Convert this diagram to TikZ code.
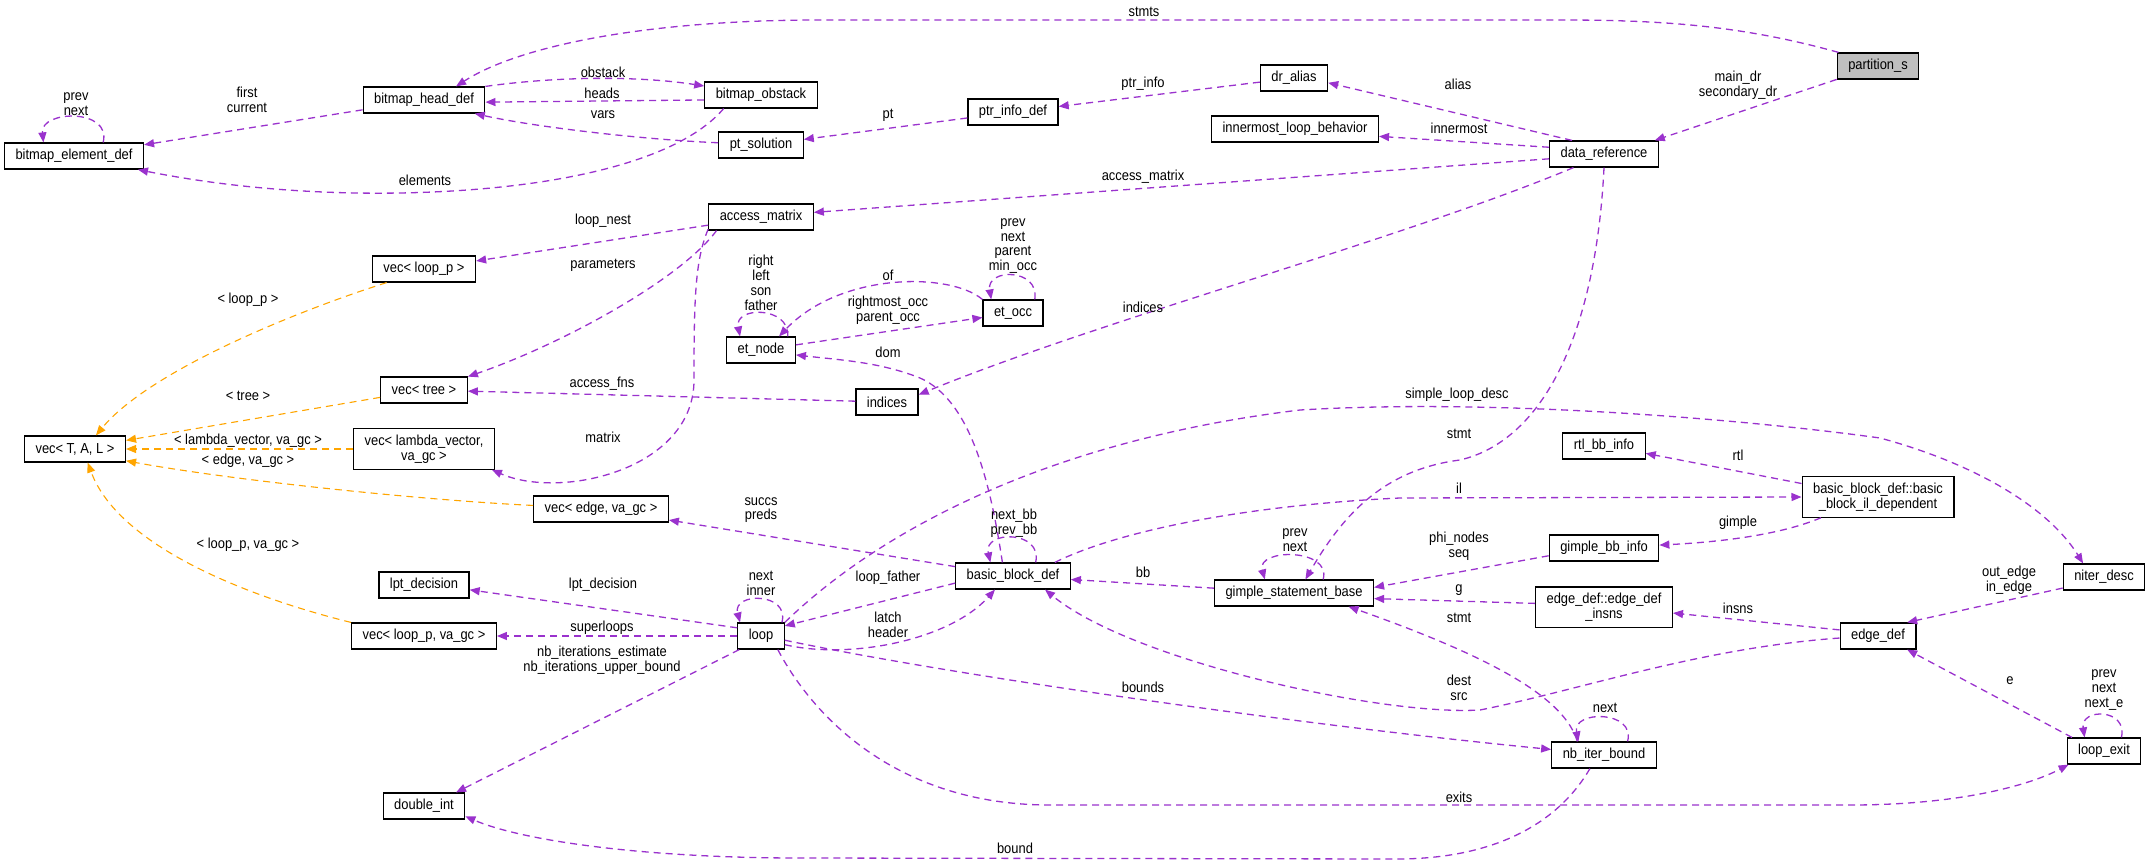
\documentclass[tikz,border=0pt]{standalone}
\usepackage{fontspec}
\newfontfamily\dxfont{Liberation Sans}[FakeStretch=0.89]
\usetikzlibrary{arrows.meta}
\definecolor{dxpurple}{HTML}{9A32CD}
\definecolor{dxorange}{HTML}{FFA500}
\definecolor{dxgray}{HTML}{BFBFBF}

\begin{document}
\begin{tikzpicture}[x=1pt, y=-1pt, >={Triangle[length=10pt, width=8pt]},
	cls/.style={rectangle, draw, line width=1.2pt, fill=white, inner xsep=11pt, inner ysep=6pt, minimum height=26pt, align=center, font=\dxfont\fontsize{14.5}{14.8}\selectfont},
	root/.style={cls, fill=dxgray},
	member/.style={->, draw=dxpurple, line width=1.3pt, dash pattern=on 7pt off 5pt},
	templ/.style={member, draw=dxorange, line width=1.1pt},
	lbl/.style={inner sep=0pt, align=center, font=\dxfont\fontsize{14.5}{14.8}\selectfont}]
		\useasboundingbox (0,0) rectangle (2149,867);

		\node (partition) [root] at (1878,66) {partition\_s};
		\node (dataref) [cls] at (1604,154) {data\_reference};
		\node (dralias) [cls] at (1294,78) {dr\_alias};
		\node (innermost) [cls] at (1295,129) {innermost\_loop\_behavior};
		\node (ptrinfo) [cls] at (1013,112) {ptr\_info\_def};
		\node (obstack) [cls] at (761,95) {bitmap\_obstack};
		\node (ptsol) [cls] at (761,145) {pt\_solution};
		\node (headdef) [cls] at (424,100) {bitmap\_head\_def};
		\node (elemdef) [cls] at (74,156) {bitmap\_element\_def};
		\node (accmat) [cls] at (761,217) {access\_matrix};
		\node (veclp) [cls] at (424,269) {vec< loop\_p >};
		\node (etnode) [cls] at (761,350) {et\_node};
		\node (etocc) [cls] at (1013,313) {et\_occ};
		\node (vectree) [cls] at (424,390) {vec< tree >};
		\node (indices) [cls] at (887,402) {indices};
		\node (vectal) [cls] at (75,449) {vec< T, A, L >};
		\node (veclam) [cls] at (424,449) {vec< lambda\_vector,\\va\_gc >};
		\node (vecedge) [cls] at (601,509) {vec< edge, va\_gc >};
		\node (lpt) [cls] at (424,585) {lpt\_decision};
		\node (veclpgc) [cls] at (424,636) {vec< loop\_p, va\_gc >};
		\node (loop) [cls] at (761,636) {loop};
		\node (dint) [cls] at (424,806) {double\_int};
		\node (bbdef) [cls] at (1013,576) {basic\_block\_def};
		\node (gimple) [cls] at (1294,593) {gimple\_statement\_base};
		\node (rtl) [cls] at (1604,446) {rtl\_bb\_info};
		\node (bbil) [cls] at (1878,497) {basic\_block\_def::basic\\\_block\_il\_dependent};
		\node (gimplebb) [cls] at (1604,548) {gimple\_bb\_info};
		\node (niter) [cls] at (2104,577) {niter\_desc};
		\node (einsns) [cls] at (1604,607) {edge\_def::edge\_def\\\_insns};
		\node (edgedef) [cls] at (1878,636) {edge\_def};
		\node (nbiter) [cls] at (1604,755) {nb\_iter\_bound};
		\node (loopexit) [cls] at (2104,751) {loop\_exit};

		\draw[member] (partition.161) .. controls (1740,25) and (1660,20) .. (1560,20) -- (820,20) .. controls (650,20) and (520,45) .. (headdef.23) node[lbl] at (1144,12) {stmts};
		\draw[member] (partition.198) -- (dataref.15) node[lbl] at (1738,85) {main\_dr\\secondary\_dr};
		\draw[member] (dataref.157) -- (dralias.352) node[lbl] at (1458,84) {alias};
		\draw[member] (dataref.173) -- (innermost.355) node[lbl] at (1459,128) {innermost};
		\draw[member] (dataref.185) -- (accmat.5) node[lbl] at (1143,177) {access\_matrix};
		\draw[member] (dataref.204) .. controls (1400,240) and (1100,320) .. (indices.13) node[lbl] at (1143,307) {indices};
		\draw[member] (dataref.south) .. controls (1596,330) and (1545,440) .. (1460,460) .. controls (1380,470) and (1340,520) .. (gimple.50) node[lbl] at (1459,434) {stmt};

		\draw[member] (headdef) -- (elemdef) node[lbl] at (247,100) {first\\current};
		\draw[member] (elemdef.25) .. controls (112,108) and (40,110) .. (elemdef.156) node[lbl] at (76,104) {prev\\next};
		\draw[member] (headdef.north east) .. controls (560,76) and (640,76) .. (obstack.171) node[lbl] at (603,72) {obstack};
		\draw[member] (obstack.185) -- (headdef.358) node[lbl] at (602,93) {heads};
		\draw[member] (ptsol.177) .. controls (650,140) and (540,128) .. (headdef.345) node[lbl] at (603,115) {vars};
		\draw[member] (obstack.200) .. controls (680,160) and (560,190) .. (400,193) .. controls (280,195) and (190,180) .. (elemdef.348) node[lbl] at (425,180) {elements};
		\draw[member] (ptrinfo) -- (ptsol) node[lbl] at (888,115) {pt};
		\draw[member] (dralias) -- (ptrinfo) node[lbl] at (1143,84) {ptr\_info};

		\draw[member] (accmat) -- (veclp) node[lbl] at (603,221) {loop\_nest};
		\draw[member] (accmat.197) .. controls (680,280) and (560,345) .. (vectree.17) node[lbl] at (603,265) {parameters};
		\draw[member] (accmat.193) .. controls (695,260) and (694,300) .. (694,380) .. controls (694,470) and (560,500) .. (veclam.343) node[lbl] at (603,437) {matrix};

		\draw[templ] (veclp.200) .. controls (300,310) and (150,370) .. (vectal.33) node[lbl] at (248,300) {< loop\_p >};
		\draw[templ] (vectree) -- (vectal) node[lbl] at (248,396) {< tree >};
		\draw[templ] (veclam) -- (vectal) node[lbl] at (248,441) {< lambda\_vector, va\_gc >};
		\draw[templ] (vecedge.177) .. controls (420,500) and (230,480) .. (vectal.347) node[lbl] at (248,461) {< edge, va\_gc >};
		\draw[templ] (veclpgc.north west) .. controls (260,600) and (120,550) .. (vectal.313) node[lbl] at (248,545) {< loop\_p, va\_gc >};

		\draw[member] (etnode.27) .. controls (790,306) and (734,306) .. (etnode.147) node[lbl] at (761,283) {right\\left\\son\\father};
		\draw[member] (etocc.north west) .. controls (950,272) and (840,272) .. (etnode.37) node[lbl] at (888,275) {of};
		\draw[member] (etnode) -- (etocc) node[lbl] at (888,310) {rightmost\_occ\\parent\_occ};
		\draw[member] (etocc.32) .. controls (1040,268) and (986,268) .. (etocc.148) node[lbl] at (1013,246) {prev\\next\\parent\\min\_occ};
		\draw[member] (indices) -- (vectree) node[lbl] at (602,384) {access\_fns};

		\draw[member] (bbdef.128) .. controls (990,480) and (970,400) .. (920,378) .. controls (880,362) and (840,360) .. (etnode.352) node[lbl] at (888,352) {dom};
		\draw[member] (bbdef.31) .. controls (1043,530) and (983,530) .. (bbdef.149) node[lbl] at (1014,523) {next\_bb\\prev\_bb};
		\draw[member] (bbdef) -- (vecedge) node[lbl] at (761,510) {succs\\preds};
		\draw[member] (bbdef.18) .. controls (1120,530) and (1250,505) .. (1400,498) -- (bbil.west) node[lbl] at (1459,488) {il};
		\draw[member] (gimple) -- (bbdef) node[lbl] at (1143,572) {bb};
		\draw[member] (gimple.25) .. controls (1332,548) and (1256,548) .. (gimple.155) node[lbl] at (1295,540) {prev\\next};

		\draw[member] (bbil.170) -- (rtl.350) node[lbl] at (1738,455) {rtl};
		\draw[member] (bbil.200) .. controls (1780,535) and (1720,542) .. (gimplebb.3) node[lbl] at (1738,523) {gimple};
		\draw[member] (gimplebb.188) -- (gimple.4) node[lbl] at (1459,546) {phi\_nodes\\seq};
		\draw[member] (einsns.177) -- (gimple.356) node[lbl] at (1459,590) {g};
		\draw[member] (nbiter.153) .. controls (1565,700) and (1500,660) .. (gimple.346) node[lbl] at (1459,618) {stmt};
		\draw[member] (nbiter.30) .. controls (1636,710) and (1572,710) .. (nbiter.152) node[lbl] at (1605,708) {next};
		\draw[member] (nbiter.224) .. controls (1560,820) and (1500,858) .. (1400,859) -- (800,858) .. controls (640,858) and (520,840) .. (dint.346) node[lbl] at (1015,848) {bound};

		\draw[member] (loop.350) .. controls (950,675) and (1300,725) .. (nbiter.174) node[lbl] at (1143,687) {bounds};
		\draw[member] (loop.212) -- (dint.23) node[lbl] at (602,660) {nb\_iterations\_estimate\\nb\_iterations\_upper\_bound};
		\draw[member] (loop) -- (veclpgc) node[lbl] at (602,628) {superloops};
		\draw[member] (loop.161) -- (lpt.354) node[lbl] at (603,585) {lpt\_decision};
		\draw[member] (loop.33) .. controls (790,592) and (732,592) .. (loop.147) node[lbl] at (761,583) {next\\inner};
		\draw[member] (bbdef.187) -- (loop.23) node[lbl] at (888,578) {loop\_father};
		\draw[member] (loop.340) .. controls (850,660) and (950,640) .. (bbdef.217) node[lbl] at (888,625) {latch\\header};
		\draw[member] (loop.north east) .. controls (880,530) and (1050,440) .. (1300,410) .. controls (1500,398) and (1750,420) .. (1880,438) .. controls (1980,465) and (2050,510) .. (niter.147) node[lbl] at (1457,395) {simple\_loop\_desc};
		\draw[member] (loop.321) .. controls (815,720) and (900,805) .. (1050,805) -- (1850,805) .. controls (1960,805) and (2030,785) .. (loopexit.201) node[lbl] at (1459,797) {exits};

		\draw[member] (niter.195) -- (edgedef.25) node[lbl] at (2009,580) {out\_edge\\in\_edge};
		\draw[member] (edgedef.171) -- (einsns.355) node[lbl] at (1738,608) {insns};
		\draw[member] (edgedef.183) .. controls (1700,648) and (1580,690) .. (1480,710) .. controls (1380,716) and (1130,660) .. (bbdef.337) node[lbl] at (1459,688) {dest\\src};
		\draw[member] (loopexit.157) -- (edgedef.335) node[lbl] at (2010,681) {e};
		\draw[member] (loopexit.38) .. controls (2128,708) and (2080,708) .. (loopexit.145) node[lbl] at (2104,690) {prev\\next\\next\_e};

	\end{tikzpicture}
\end{document}
